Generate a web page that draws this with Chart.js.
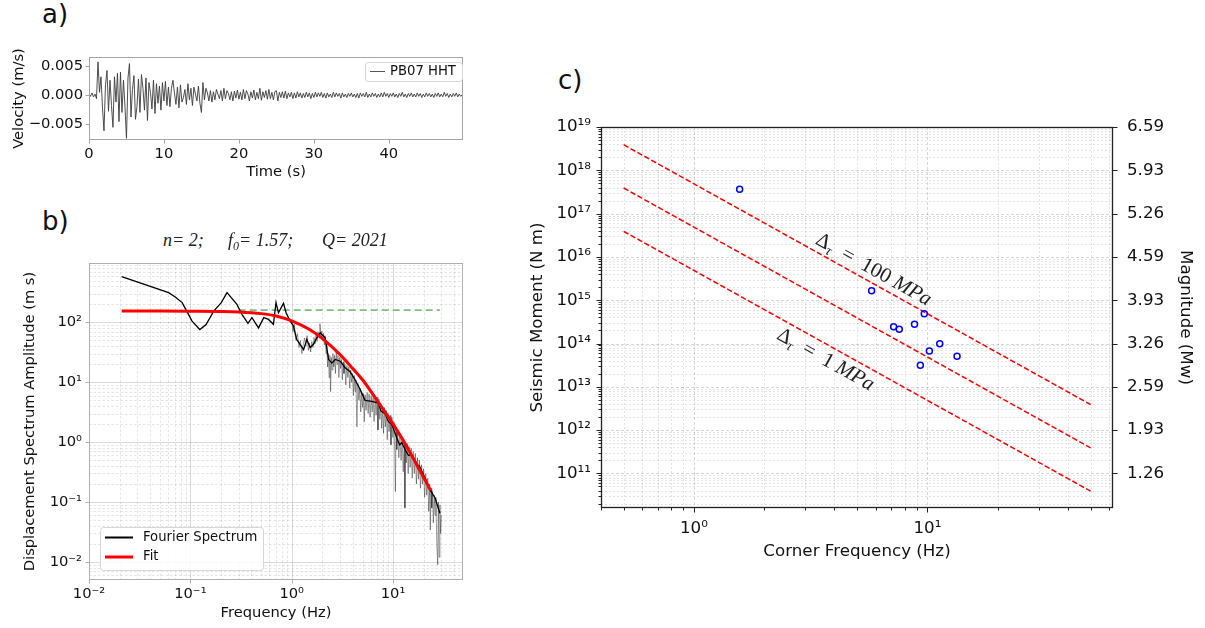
<!DOCTYPE html>
<html>
<head>
<meta charset="utf-8">
<title>Waveform, source spectrum and corner frequencies</title>
<script src="https://cdn.jsdelivr.net/npm/chart.js@4.4.1/dist/chart.umd.min.js"></script>
<style>
  body { margin: 0; background: #fff; }
  #page { position: relative; width: 1205px; height: 628px; overflow: hidden; font-family: "DejaVu Sans", sans-serif; color: #111; }
  canvas { position: absolute; }
  .tag { position: absolute; font-size: 26px; line-height: 26px; }
  .math { position: absolute; font-family: "Liberation Serif", serif; font-style: italic; font-size: 18px; line-height: 18px; white-space: nowrap; color: #222; }
  .math sub { font-size: 12px; line-height: 0; vertical-align: -4px; }
  .note { position: absolute; font-family: "Liberation Serif", serif; font-size: 21px; line-height: 21px; white-space: nowrap; color: #222; transform: translate(-50%, -50%) rotate(29.2deg); }
  .note sub { font-size: 14px; line-height: 0; vertical-align: -4px; font-style: italic; }
  .note i { font-style: italic; }
</style>
</head>
<body>
<div id="page">
  <canvas id="wave" width="480" height="160" style="left:0; top:40px"></canvas>
  <canvas id="spectrum" width="480" height="378" style="left:0; top:250px"></canvas>
  <canvas id="moment" width="685" height="518" style="left:520px; top:110px"></canvas>

  <div class="tag" style="left:42px; top:1px">a)</div>
  <div class="tag" style="left:42px; top:208px">b)</div>
  <div class="tag" style="left:558px; top:67px">c)</div>

  <div class="math" style="left:163px; top:231px">n= 2;</div>
  <div class="math" style="left:228px; top:231px">f<sub>0</sub>= 1.57;</div>
  <div class="math" style="left:322px; top:231px">Q= 2021</div>

  <div class="note" style="left:874px; top:269px">Δ<sub>τ</sub>&ensp;=&ensp;100 <i>MPa</i></div>
  <div class="note" style="left:826px; top:359px">Δ<sub>τ</sub>&ensp;=&ensp;1 <i>MPa</i></div>
</div>

<script>
// ---- a) velocity trace, one sample every 0.2 s, values in 1e-4 m/s ----
const waveLabel = 'PB07 HHT';
const waveStep = 0.2;
const waveVel = [
  3, -2, 4, -3, 2, -6, 58, 5, 32, -22, -62, 18, 43, -28, 26, -18, -56, 32, -12, 38, -46, 40, -30, 26, -20,
  -75, 30, 55, -38, 10, 34, -42, -20, 28, -30, 36, 12, -26, 30, -44, 22, 5, -24, 26, -32, 20, -14, 16, -26, 22,
  -10, 24, -18, 14, -20, 12, 26, 4, -16, 14, -22, 18, -12, -4, 10, -16, 20, -8, 12, -18, 14, 2, -10, 16, -14,
  -30, 22, -8, 12, 4, -10, 8, -12, 6, -8, 10, 2, -6, 8, -10, 12, -6, 8, 3, -8, 6, -10, 7, -5, 9,
  -7, 5, -8, 10, -6, 8, 2, -10, 6, -5, 9, -8, 5, -6, 12, -9, 6, -4, 8, -7, 10, -6, 5, -8, 6,
  8, -10, 5, -4, 6, -5, 7, -6, 4, -3, 5, -6, 4, -5, 6, -3, 4, -5, 3, -4, 5, -3, 4, -6, 3,
  -4, 5, -3, 4, -2, 5, -4, 3, -5, 4, -3, 2, -4, 5, -3, 4, -2, 3, -5, 4, -3, 2, -4, 3, -2,
  4, -3, 2, -4, 3, -5, 4, -2, 3, -3, 5, -4, 2, -3, 4, -2, 3, -4, 2, -3, 4, -3, 5, -2, 3,
  -4, 3, -2, 4, -3, 2, -4, 3, -2, 5, -3, 2, -4, 3, -2, 4, -3, 2, -3, 4, -2, 3, -4, 2, -3,
  4, -2, 3, -3, 2, -4, 3, -2, 4, -3, 2, -3, 5, -2, 3, -4, 2, -3, 3, -2, 4, -3, 2, -2, 1
];
const timeTicks = [0, 10, 20, 30, 40];
const timeTickLabels = ['0', '10', '20', '30', '40'];
const velTicks = [-0.005, 0, 0.005];
const velTickLabels = ['\u22120.005', '0.000', '0.005'];

// ---- b) displacement spectrum ----
const specFreq = [0.021, 0.061, 0.071, 0.083, 0.104, 0.124, 0.143, 0.170, 0.202, 0.230, 0.288, 0.323, 0.37, 0.405, 0.471,
  0.53, 0.59, 0.66, 0.70, 0.74, 0.83, 0.88, 0.967, 1.04, 1.12, 1.21, 1.31, 1.41, 1.52, 1.64, 1.77, 1.91, 2.14, 2.31,
  2.49, 2.69, 3.01, 3.37, 3.77, 4.22, 4.73, 5.3, 6.17, 7.17, 7.6, 8.34, 9.0, 9.7, 10.9, 11.6, 12.2, 13.1, 14.2, 15.0,
  15.9, 17.3, 18.2, 19.2, 21.0, 23.2, 26.0, 29.0];
const specAmp = [582, 314, 265, 214, 105, 76, 92, 154, 214, 314, 200, 136, 96, 120, 81,
  120, 112, 93, 214, 145, 208, 145, 105, 87, 52, 43, 35, 52, 38, 43, 55, 67, 55, 24,
  21, 24, 22.5, 17.5, 15, 11, 7.6, 5.0, 4.8, 4.5, 3.3, 3.0, 2.2, 2.0, 1.17, 0.9, 0.98, 0.76, 0.6, 0.62,
  0.55, 0.42, 0.4, 0.33, 0.24, 0.16, 0.117, 0.065];
// raw (unsmoothed) spectrum, [Hz, m s]
const rawSpectrum = [
  [1.0, 110], [1.03, 70], [1.06, 95], [1.1, 50], [1.14, 65], [1.18, 38], [1.22, 50], [1.26, 30], [1.3, 42], [1.34, 55],
  [1.38, 40], [1.42, 60], [1.46, 34], [1.5, 45], [1.54, 32], [1.58, 48], [1.62, 38], [1.66, 56], [1.7, 44], [1.74, 62],
  [1.78, 48], [1.82, 70], [1.86, 55], [1.9, 95], [1.94, 58], [1.98, 72], [2.02, 50], [2.06, 66], [2.1, 42], [2.14, 60],
  [2.18, 30], [2.22, 45], [2.26, 18], [2.3, 30], [2.34, 12], [2.38, 28], [2.42, 7], [2.46, 26], [2.5, 16], [2.55, 30],
  [2.6, 18], [2.65, 28], [2.7, 14], [2.75, 32], [2.8, 20], [2.86, 28], [2.92, 12], [2.98, 26], [3.04, 17], [3.1, 24],
  [3.16, 11], [3.22, 22], [3.28, 14], [3.35, 20], [3.42, 9], [3.5, 19], [3.58, 12], [3.66, 18], [3.74, 8], [3.82, 16],
  [3.9, 10], [3.98, 14], [4.06, 6], [4.14, 13], [4.22, 7], [4.3, 11], [4.4, 1.8], [4.5, 9.5], [4.6, 5], [4.7, 8],
  [4.8, 3.2], [4.9, 7], [5.0, 3.8], [5.1, 6.5], [5.2, 2.2], [5.3, 6.2], [5.42, 3.4], [5.55, 6.8], [5.68, 3.0], [5.8, 6.4],
  [5.94, 2.6], [6.08, 6.0], [6.22, 3.2], [6.36, 5.8], [6.5, 2.2], [6.65, 5.4], [6.8, 2.8], [6.95, 5.6], [7.1, 1.6], [7.25, 5.2],
  [7.4, 2.4], [7.56, 4.4], [7.72, 1.7], [7.88, 4.0], [8.05, 1.4], [8.22, 3.8], [8.4, 1.8], [8.58, 3.4], [8.76, 1.1], [8.95, 3.0],
  [9.14, 1.5], [9.34, 2.8], [9.54, 0.9], [9.75, 2.6], [9.96, 1.2], [10.2, 2.2], [10.4, 0.65], [10.55, 0.15], [10.7, 1.7], [10.9, 0.75],
  [11.15, 1.5], [11.4, 0.55], [11.7, 1.3], [12.0, 0.5], [12.3, 1.15], [12.6, 0.32], [12.9, 1.0], [13.1, 0.08], [13.3, 0.9], [13.5, 0.45],
  [13.8, 0.95], [14.1, 0.3], [14.4, 0.85], [14.75, 0.38], [15.1, 0.8], [15.45, 0.25], [15.8, 0.7], [16.2, 0.3], [16.6, 0.65], [17.0, 0.2],
  [17.4, 0.55], [17.8, 0.24], [18.2, 0.5], [18.65, 0.17], [19.1, 0.42], [19.55, 0.2], [20.0, 0.36], [20.5, 0.12], [21.0, 0.3], [21.5, 0.13],
  [22.0, 0.25], [22.5, 0.07], [23.0, 0.2], [23.3, 0.034], [23.7, 0.17], [24.1, 0.08], [24.5, 0.15], [25.0, 0.045], [25.5, 0.13], [26.0, 0.06],
  [26.5, 0.12], [27.0, 0.02], [27.6, 0.009], [28.0, 0.1], [28.5, 0.012], [29.0, 0.09], [29.5, 0.03], [30.0, 0.06]
];
const fitFreq = [0.021, 0.05, 0.1, 0.2, 0.3, 0.5, 0.7, 1.0, 1.5, 2.0, 3.0, 4.0, 5.0, 7.0, 10, 13, 16, 20, 23.5];
const fitAmp = [155, 155, 154, 152, 149, 140, 128, 106, 76, 54, 29, 17, 11, 4.9, 2.0, 0.98, 0.52, 0.26, 0.155];
const plateauFreq = [0.3, 29];
const plateauAmp = [160, 160];
const freqTicks = [0.01, 0.1, 1, 10];
const freqTickLabels = ['10\u207B\u00B2', '10\u207B\u00B9', '10\u2070', '10\u00B9'];
const ampTicks = [0.01, 0.1, 1, 10, 100];
const ampTickLabels = ['10\u207B\u00B2', '10\u207B\u00B9', '10\u2070', '10\u00B9', '10\u00B2'];

// ---- c) seismic moment vs corner frequency ----
const cornerFreq = [1.57, 5.77, 9.70, 8.81, 7.17, 7.58, 11.3, 10.2, 13.4, 9.33];
const seismicMoment = [3.64e17, 1.66e15, 4.88e14, 2.77e14, 2.44e14, 2.13e14, 9.9e13, 6.7e13, 5.06e13, 3.14e13];
const stressFreq = [0.5, 50];
const stress100 = [3.9e18, 3.9e12];
const stress10 = [3.9e17, 3.9e11];
const stress1 = [3.9e16, 3.9e10];
const cornerTicks = [1, 10];
const cornerTickLabels = ['10\u2070', '10\u00B9'];
const momentTicks = [1e11, 1e12, 1e13, 1e14, 1e15, 1e16, 1e17, 1e18, 1e19];
const momentTickLabels = ['10\u00B9\u00B9', '10\u00B9\u00B2', '10\u00B9\u00B3', '10\u00B9\u2074', '10\u00B9\u2075',
  '10\u00B9\u2076', '10\u00B9\u2077', '10\u00B9\u2078', '10\u00B9\u2079'];
const magnitudeTickLabels = ['1.26', '1.93', '2.59', '3.26', '3.93', '4.59', '5.26', '5.93', '6.59'];

Chart.defaults.font.family = '"DejaVu Sans", sans-serif';
Chart.defaults.color = '#111';

const pts = (xs, ys) => xs.map((x, i) => ({ x, y: ys[i] }));
const isDecade = v => Math.abs(Math.log10(v) - Math.round(Math.log10(v))) < 1e-6;

// every 1..9 x 10^n position between min and max (grid and minor ticks)
function logGrid(min, max) {
  const out = [];
  for (let e = Math.floor(Math.log10(min)); e <= Math.ceil(Math.log10(max)); e++) {
    for (let m = 1; m < 10; m++) {
      const v = m * Math.pow(10, e);
      if (v >= min * (1 - 1e-9) && v <= max * (1 + 1e-9)) out.push({ value: v });
    }
  }
  return out;
}
function pickLabel(value, values, labels) {
  const i = values.findIndex(t => Math.abs(t - value) <= Math.max(Math.abs(t) * 1e-6, 1e-12));
  return i < 0 ? '' : labels[i];
}
// fixed axis box, no extra padding pushed into the layout
function fitAxis(s, size) {
  if (size.width) s.width = size.width;
  if (size.height) s.height = size.height;
  s.paddingTop = s.paddingBottom = s.paddingLeft = s.paddingRight = 0;
}

// grid, tick marks and the box round the plot area
const framePlugin = {
  id: 'frame',
  beforeDatasetsDraw(chart, args, o) {
    if (!o.grid) return;
    const { ctx, chartArea: a } = chart;
    ctx.save();
    ctx.beginPath();
    ctx.rect(a.left, a.top, a.width, a.height);
    ctx.clip();
    ctx.lineWidth = o.grid.width;
    ['x', 'y'].forEach(id => {
      const s = chart.scales[id];
      s.ticks.forEach(t => {
        const major = isDecade(t.value);
        const p = Math.round(s.getPixelForValue(t.value)) + 0.5;
        ctx.strokeStyle = major ? o.grid.major : o.grid.minor;
        ctx.setLineDash(major ? o.grid.majorDash : o.grid.minorDash);
        ctx.beginPath();
        if (s.isHorizontal()) { ctx.moveTo(p, a.top); ctx.lineTo(p, a.bottom); }
        else { ctx.moveTo(a.left, p); ctx.lineTo(a.right, p); }
        ctx.stroke();
      });
    });
    ctx.restore();
  },
  afterDatasetsDraw(chart, args, o) {
    const { ctx, chartArea: a } = chart;
    ctx.save();
    ctx.strokeStyle = o.color;
    ctx.setLineDash([]);
    ctx.lineWidth = 1;
    (o.marks || []).forEach(m => {
      const s = chart.scales[m.id];
      s.ticks.forEach(t => {
        const len = (!m.log || isDecade(t.value)) ? m.major : m.minor;
        if (!len) return;
        const p = Math.round(s.getPixelForValue(t.value)) + 0.5;
        ctx.beginPath();
        if (s.position === 'bottom') { ctx.moveTo(p, a.bottom); ctx.lineTo(p, a.bottom + len); }
        else if (s.position === 'left') { ctx.moveTo(a.left, p); ctx.lineTo(a.left - len, p); }
        else { ctx.moveTo(a.right, p); ctx.lineTo(a.right + len, p); }
        ctx.stroke();
      });
    });
    ctx.lineWidth = o.width;
    ctx.strokeRect(a.left + 0.5, a.top + 0.5, a.width - 1, a.height - 1);
    ctx.restore();
  }
};

// matplotlib-like legend box inside the axes
const legendPlugin = {
  id: 'boxLegend',
  afterDraw(chart, args, o) {
    if (!o.items) return;
    const ctx = chart.ctx;
    const [x, y, w, h] = o.box;
    ctx.save();
    ctx.fillStyle = 'rgba(255,255,255,0.85)';
    ctx.strokeStyle = '#d6d6d6';
    ctx.lineWidth = 1;
    ctx.beginPath();
    ctx.roundRect(x + 0.5, y + 0.5, w, h, 3);
    ctx.fill();
    ctx.stroke();
    ctx.font = o.font;
    ctx.textBaseline = 'middle';
    o.items.forEach(it => {
      ctx.strokeStyle = it.color;
      ctx.lineWidth = it.width;
      ctx.beginPath();
      ctx.moveTo(it.x1, it.y);
      ctx.lineTo(it.x2, it.y);
      ctx.stroke();
      ctx.fillStyle = '#111';
      ctx.fillText(it.text, it.tx, it.y);
    });
    ctx.restore();
  }
};

const noGrid = { display: false, drawTicks: false };
const line = { showLine: true, pointRadius: 0, fill: false, tension: 0 };

// a) waveform
new Chart(document.getElementById('wave'), {
  type: 'scatter',
  data: {
    datasets: [{
      ...line,
      label: waveLabel,
      data: waveVel.map((v, i) => ({ x: i * waveStep, y: v * 1e-4 })),
      borderColor: '#3a3a3a',
      borderWidth: 0.9
    }]
  },
  options: {
    responsive: false, animation: false, events: [],
    layout: { padding: { top: 17, right: 17, left: 0, bottom: 0 }, autoPadding: false },
    plugins: {
      legend: { display: false }, tooltip: { enabled: false },
      frame: { color: '#a6a6a6', width: 1, marks: [{ id: 'x', major: 3.5 }, { id: 'y', major: 3.5 }] },
      boxLegend: {
        box: [365, 22, 97, 19], font: '13.2px "DejaVu Sans"',
        items: [{ text: waveLabel, color: '#555', width: 1, x1: 370, x2: 385, y: 31.5, tx: 390 }]
      }
    },
    scales: {
      x: {
        type: 'linear', min: 0, max: 49.9,
        afterBuildTicks: s => { s.ticks = timeTicks.map(v => ({ value: v })); },
        afterFit: s => fitAxis(s, { height: 60 }),
        ticks: { autoSkip: false, maxRotation: 0, padding: 5, font: { size: 14.7 }, callback: v => pickLabel(v, timeTicks, timeTickLabels) },
        grid: noGrid, border: { display: false },
        title: { display: true, text: 'Time (s)', font: { size: 14.7 }, padding: { bottom: 19 } }
      },
      y: {
        type: 'linear', min: -0.0078, max: 0.00665,
        afterBuildTicks: s => { s.ticks = velTicks.map(v => ({ value: v })); },
        afterFit: s => fitAxis(s, { width: 89 }),
        ticks: { autoSkip: false, padding: 6, font: { size: 14.7 }, callback: v => pickLabel(v, velTicks, velTickLabels) },
        grid: noGrid, border: { display: false },
        title: { display: true, text: 'Velocity (m/s)', font: { size: 14.7 }, padding: { top: 10 } }
      }
    }
  },
  plugins: [framePlugin, legendPlugin]
});

// b) spectrum and fit
new Chart(document.getElementById('spectrum'), {
  type: 'scatter',
  data: {
    datasets: [
      { ...line, label: 'Fit', data: pts(fitFreq, fitAmp), borderColor: '#ff0000', borderWidth: 3, cubicInterpolationMode: 'monotone' },
      { ...line, label: 'Fourier Spectrum', data: pts(specFreq, specAmp), borderColor: '#000000', borderWidth: 1.3 },
      { ...line, label: 'raw', data: rawSpectrum.map(([x, y]) => ({ x, y })), borderColor: 'rgba(0,0,0,0.38)', borderWidth: 1 },
      { ...line, label: 'plateau', data: pts(plateauFreq, plateauAmp), borderColor: '#7fbf7f', borderWidth: 1.8, borderDash: [7, 4] }
    ]
  },
  options: {
    responsive: false, animation: false, events: [],
    layout: { padding: { top: 13, right: 17, left: 0, bottom: 0 }, autoPadding: false },
    plugins: {
      legend: { display: false }, tooltip: { enabled: false },
      frame: {
        color: '#b0b0b0', width: 1,
        grid: { width: 0.8, major: 'rgba(0,0,0,0.18)', minor: 'rgba(0,0,0,0.13)', majorDash: [], minorDash: [2.5, 2] },
        marks: [{ id: 'x', major: 3.5, log: true }, { id: 'y', major: 3.5, log: true }]
      },
      boxLegend: {
        box: [100, 277, 163, 43], font: '13.2px "DejaVu Sans"',
        items: [
          { text: 'Fourier Spectrum', color: '#000', width: 2, x1: 105, x2: 133, y: 287.5, tx: 143 },
          { text: 'Fit', color: '#ff0000', width: 3, x1: 105, x2: 133, y: 307, tx: 143 }
        ]
      }
    },
    scales: {
      x: {
        type: 'logarithmic', min: 0.01, max: 49,
        afterBuildTicks: s => { s.ticks = logGrid(0.01, 49); },
        afterFit: s => fitAxis(s, { height: 48 }),
        ticks: { autoSkip: false, maxRotation: 0, padding: 5, font: { size: 14.7 }, callback: v => pickLabel(v, freqTicks, freqTickLabels) },
        grid: noGrid, border: { display: false },
        title: { display: true, text: 'Frequency (Hz)', font: { size: 14.7 }, padding: { bottom: 6 } }
      },
      y: {
        type: 'logarithmic', min: 0.005, max: 980,
        afterBuildTicks: s => { s.ticks = logGrid(0.005, 980); },
        afterFit: s => fitAxis(s, { width: 89 }),
        ticks: { autoSkip: false, padding: 7, font: { size: 14.7 }, callback: v => pickLabel(v, ampTicks, ampTickLabels) },
        grid: noGrid, border: { display: false },
        title: { display: true, text: 'Displacement Spectrum Amplitude (m s)', font: { size: 14.7 }, padding: { top: 21 } }
      }
    }
  },
  plugins: [framePlugin, legendPlugin]
});

// c) moment vs corner frequency with constant stress-drop lines
new Chart(document.getElementById('moment'), {
  type: 'scatter',
  data: {
    datasets: [
      { label: 'events', data: pts(cornerFreq, seismicMoment), pointRadius: 3, pointBorderWidth: 1.5, borderColor: '#0000ff', backgroundColor: 'rgba(0,0,0,0)', showLine: false },
      { ...line, label: '100 MPa', data: pts(stressFreq, stress100), borderColor: '#ff0000', borderWidth: 1.5, borderDash: [5.5, 2.4] },
      { ...line, label: '10 MPa', data: pts(stressFreq, stress10), borderColor: '#ff0000', borderWidth: 1.5, borderDash: [5.5, 2.4] },
      { ...line, label: '1 MPa', data: pts(stressFreq, stress1), borderColor: '#ff0000', borderWidth: 1.5, borderDash: [5.5, 2.4] }
    ]
  },
  options: {
    responsive: false, animation: false, events: [],
    layout: { padding: { top: 17, right: 0, left: 0, bottom: 0 }, autoPadding: false },
    plugins: {
      legend: { display: false }, tooltip: { enabled: false },
      frame: {
        color: '#222', width: 1.3,
        grid: { width: 0.8, major: 'rgba(0,0,0,0.2)', minor: 'rgba(0,0,0,0.13)', majorDash: [3, 2], minorDash: [2, 2] },
        marks: [{ id: 'x', major: 4.5, minor: 2.5, log: true }, { id: 'y', major: 4.5, minor: 2.5, log: true }, { id: 'y2', major: 4.5 }]
      }
    },
    scales: {
      x: {
        type: 'logarithmic', min: 0.40, max: 62.4,
        afterBuildTicks: s => { s.ticks = logGrid(0.40, 62.4); },
        afterFit: s => fitAxis(s, { height: 120 }),
        ticks: { autoSkip: false, maxRotation: 0, padding: 11, font: { size: 16.7 }, callback: v => pickLabel(v, cornerTicks, cornerTickLabels) },
        grid: noGrid, border: { display: false },
        title: { display: true, text: 'Corner Frequency (Hz)', font: { size: 16.7 }, padding: { bottom: 66 } }
      },
      y: {
        type: 'logarithmic', position: 'left', min: 1.59e10, max: 1e19,
        afterBuildTicks: s => { s.ticks = logGrid(1.59e10, 1e19); },
        afterFit: s => fitAxis(s, { width: 81 }),
        ticks: { autoSkip: false, padding: 10, font: { size: 16.7 }, callback: v => pickLabel(v, momentTicks, momentTickLabels) },
        grid: noGrid, border: { display: false },
        title: { display: true, text: 'Seismic Moment (N m)', font: { size: 16.7 }, padding: { top: 8 } }
      },
      y2: {
        type: 'logarithmic', position: 'right', min: 1.59e10, max: 1e19,
        afterBuildTicks: s => { s.ticks = momentTicks.map(v => ({ value: v })); },
        afterFit: s => fitAxis(s, { width: 92 }),
        ticks: { autoSkip: false, padding: 14, font: { size: 16.7 }, callback: v => pickLabel(v, momentTicks, magnitudeTickLabels) },
        grid: noGrid, border: { display: false },
        title: { display: true, text: 'Magnitude (Mw)', font: { size: 16.7 }, padding: { top: 10 } }
      }
    }
  },
  plugins: [framePlugin]
});
</script>
</body>
</html>
